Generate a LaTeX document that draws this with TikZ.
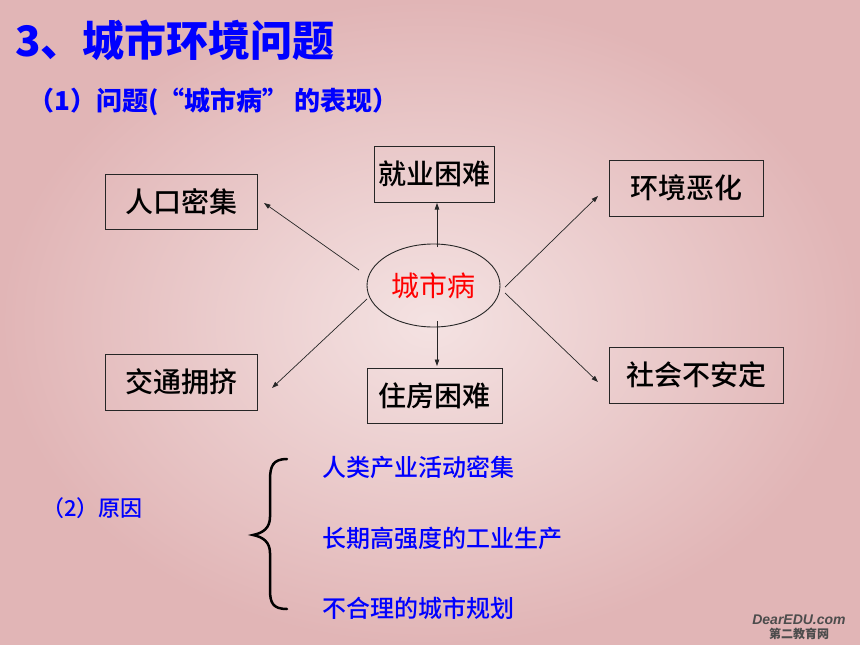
\documentclass[tikz,border=0pt]{standalone}
\usepackage{fontspec}
\setmainfont{Noto Sans CJK SC}
\newfontfamily\cjkm{Noto Sans CJK SC}[UprightFont={* Medium}]
\newfontfamily\wmfont{Liberation Sans}
\usetikzlibrary{arrows.meta,shapes.geometric}
\definecolor{bgin}{RGB}{244,226,226}
\definecolor{bgout}{RGB}{225,181,182}
\definecolor{tblue}{RGB}{0,0,255}
\definecolor{tred}{RGB}{255,0,0}
\begin{document}
\begin{tikzpicture}[x=1pt,y=-1pt,
  box/.style={draw=black!85,line width=0.9pt,inner sep=0pt,font=\cjkm\fontsize{28}{30}\selectfont},
  arr/.style={draw=black!85,line width=0.7pt,-{Triangle[length=6.5pt,width=4.5pt]}},
  bluetxt/.style={text=tblue,inner sep=0pt,font=\cjkm\fontsize{24}{26}\selectfont},
]
\shade[inner color=bgin,outer color=bgout] (0,0) rectangle (860,645);
\useasboundingbox (0,0) rectangle (860,645);

% titles
\node[anchor=west,inner sep=0pt,text=tblue,font=\fontsize{42}{44}\selectfont\bfseries] (title) at (15,40) {3、城市环境问题};
\node[anchor=west,inner sep=0pt,text=tblue,font=\fontsize{26}{28}\selectfont\bfseries] (sub) at (28,102) {（1）问题(“城市病” 的表现）};

% boxes
\node[box,minimum width=152pt,minimum height=55pt] (rk) at (181,201.5) {人口密集};
\node[box,minimum width=120pt,minimum height=56pt] (jy) at (434,174) {就业困难};
\node[box,minimum width=152pt,minimum height=56pt] (jt) at (181,382) {交通拥挤};
\node[box,minimum width=135pt,minimum height=55pt] (zf) at (434.5,395.5) {住房困难};
\node[box,minimum width=154pt,minimum height=56pt] (hj) at (686,188) {环境恶化};
\node[box,minimum width=174pt,minimum height=56pt] (sh) at (696,375) {社会不安定};
\node[ellipse,draw=black!85,line width=0.9pt,inner sep=0pt,minimum width=133pt,minimum height=83pt,text=tred,font=\fontsize{28}{30}\selectfont] (ell) at (433.5,285.5) {城市病};

% arrow end points
\coordinate (s1) at (359,270); \coordinate (e1) at (264,203);
\coordinate (s2) at (437,247); \coordinate (e2) at (437,203);
\coordinate (s3) at (367,299); \coordinate (e3) at (272,388);
\coordinate (s4) at (437,321); \coordinate (e4) at (437,366);
\coordinate (s5) at (505,287); \coordinate (e5) at (598,196);
\coordinate (s6) at (505,293); \coordinate (e6) at (598,382);
\draw[arr] (s1) -- (e1);
\draw[arr] (s2) -- (e2);
\draw[arr] (s3) -- (e3);
\draw[arr] (s4) -- (e4);
\draw[arr] (s5) -- (e5);
\draw[arr] (s6) -- (e6);

% causes
\node[anchor=west,text=tblue,inner sep=0pt,font=\cjkm\fontsize{22}{24}\selectfont] (yy) at (42,508) {（2）原因};
\draw[line width=2.5pt,line cap=round] (287,459) .. controls (273,459) and (270,466) .. (270,480) -- (270,517) .. controls (270,528) and (263,533) .. (253,535) .. controls (263,537) and (270,542) .. (270,553) -- (270,590) .. controls (270,603) and (273,609) .. (287,609);
\node[bluetxt,anchor=west] (c1) at (322,467) {人类产业活动密集};
\node[bluetxt,anchor=west] (c2) at (322,538) {长期高强度的工业生产};
\node[bluetxt,anchor=west] (c3) at (322,608) {不合理的城市规划};

% watermark
\node[inner sep=0pt,text=black!70,font=\wmfont\fontsize{14}{15}\selectfont\bfseries\itshape] (wm1) at (799,620) {DearEDU.com};
\node[inner sep=0pt,text=black!70,font=\fontsize{12}{13}\selectfont\bfseries] (wm2) at (799,634) {第二教育网};
\end{tikzpicture}
\end{document}
